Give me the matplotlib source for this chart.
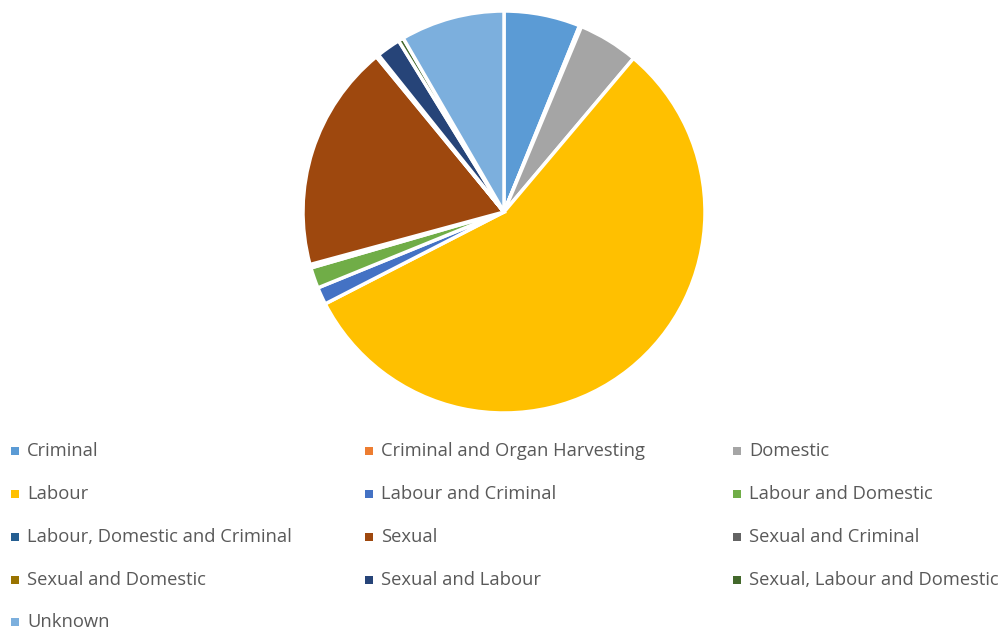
import matplotlib
matplotlib.use("Agg")
import matplotlib.pyplot as plt

categories = ["Criminal", "Criminal and Organ Harvesting", "Domestic", "Labour",
              "Labour and Criminal", "Labour and Domestic", "Labour, Domestic and Criminal",
              "Sexual", "Sexual and Criminal", "Sexual and Domestic", "Sexual and Labour",
              "Sexual, Labour and Domestic", "Unknown"]
values = [22, 0.6, 17.4, 202, 5, 6, 1, 65.5, 0.4, 0.4, 7, 1.5, 30]
colors = ["#5B9BD5", "#ED7D31", "#A5A5A5", "#FFC000", "#4472C4", "#70AD47", "#255E91",
          "#9E480E", "#636363", "#997300", "#264478", "#43682B", "#7CAFDD"]

W, H = 1006, 630
fig = plt.figure(figsize=(W / 100, H / 100), dpi=100)
fig.patch.set_facecolor("white")

cx, cy, r = 504, 212, 201
ax = fig.add_axes([(cx - r) / W, 1 - (cy + r) / H, 2 * r / W, 2 * r / H])
ax.pie(values, colors=colors, startangle=90, counterclock=False,
       wedgeprops=dict(edgecolor="white", linewidth=2.5))
ax.set_xlim(-1.0, 1.0)
ax.set_ylim(-1.0, 1.0)
ax.set_aspect("equal")
ax.axis("off")

# legend
lax = fig.add_axes([0, 0, 1, 1])
lax.set_xlim(0, W)
lax.set_ylim(H, 0)
lax.axis("off")
col_x = [15, 369, 737]
row_y = [451, 494, 537, 580, 622]
for i, (cat, col) in enumerate(zip(categories, colors)):
    x = col_x[i % 3]
    y = row_y[i // 3]
    lax.scatter([x], [y], marker="s", s=30, color=col, linewidths=0)
    lax.text(x + 12, y, cat, fontsize=13.2, family="Open Sans", color="#595959",
             va="center", ha="left")

fig.savefig("out.png", dpi=100)
